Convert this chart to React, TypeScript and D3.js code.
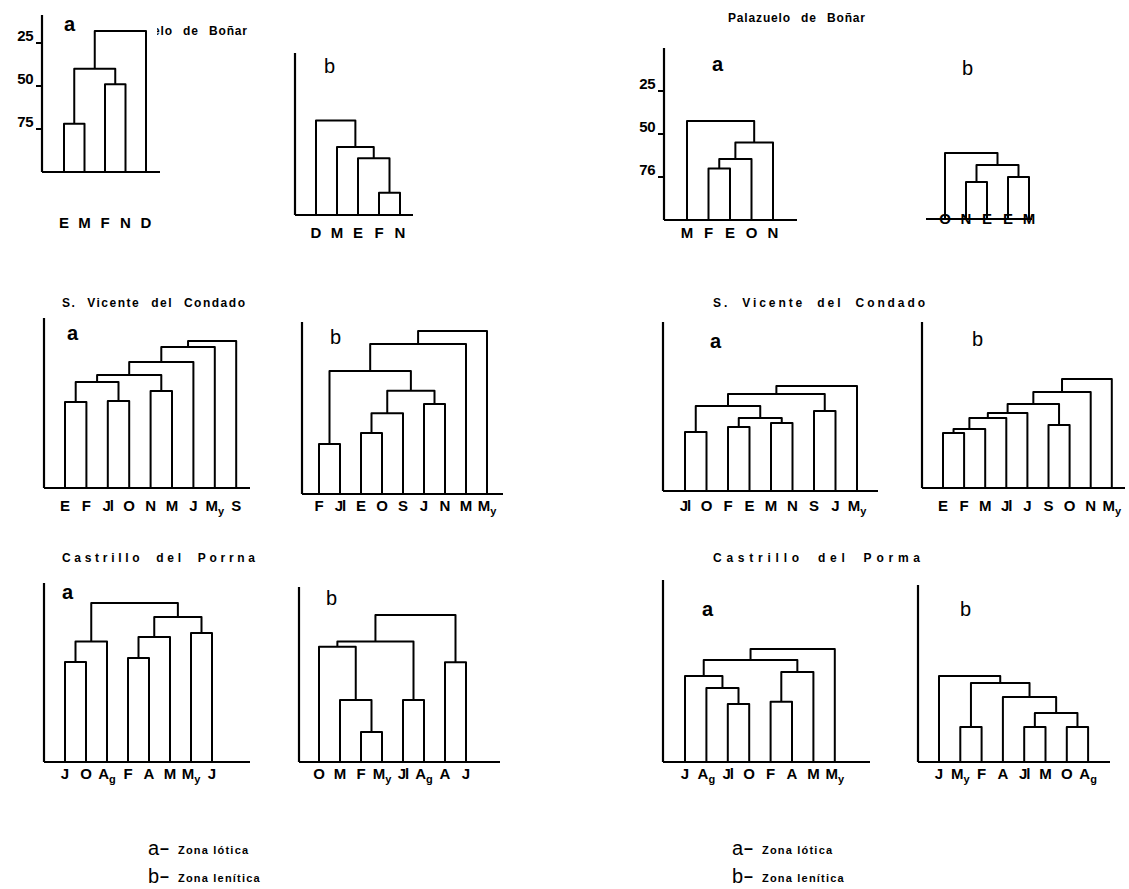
import * as d3 from "d3";

// Each dendrogram: leaves in printed order, merges hclust style
// (negative = leaf, 1-based; positive = earlier merge), similarity (%) of each merge.

// Palazuelo de Boñar
const leavesPalLeftA = ["E", "M", "F", "N", "D"];
const mergesPalLeftA = [[-1, -2], [-3, -4], [1, 2], [3, -5]];
const simPalLeftA = [72, 49, 40, 18];

const leavesPalLeftB = ["D", "M", "E", "F", "N"];
const mergesPalLeftB = [[-4, -5], [-3, 1], [-2, 2], [-1, 3]];
const simPalLeftB = [87, 67, 60.5, 45];

const leavesPalRightA = ["M", "F", "E", "O", "N"];
const mergesPalRightA = [[-2, -3], [1, -4], [2, -5], [-1, 3]];
const simPalRightA = [70, 64.5, 55, 42.4];

const leavesPalRightB = ["O", "N", "E", "E", "M"];
const mergesPalRightB = [[-2, -3], [-4, -5], [1, 2], [-1, 3]];
const simPalRightB = [78.5, 75.6, 68.6, 61.6];

// S. Vicente del Condado
const leavesVicLeftA = ["E", "F", "Jl", "O", "N", "M", "J", "My", "S"];
const mergesVicLeftA = [[-1, -2], [-3, -4], [-5, -6], [1, 2], [4, 3], [5, -7], [6, -8], [7, -9]];
const simVicLeftA = [50, 49.4, 43.6, 38.4, 34.3, 26.7, 18, 14.5];

const leavesVicLeftB = ["F", "Jl", "E", "O", "S", "J", "N", "M", "My"];
const mergesVicLeftB = [[-1, -2], [-3, -4], [2, -5], [-6, -7], [3, 4], [1, 5], [6, -8], [7, -9]];
const simVicLeftB = [71, 64.5, 53, 47.7, 40, 28.5, 12.8, 5.2];

const leavesVicRightA = ["Jl", "O", "F", "E", "M", "N", "S", "J", "My"];
const mergesVicRightA = [[-1, -2], [-3, -4], [-5, -6], [2, 3], [1, 4], [-7, -8], [5, 6], [7, -9]];
const simVicRightA = [65.7, 62.8, 60.5, 57.6, 50.6, 53.5, 43.6, 39];

const leavesVicRightB = ["E", "F", "M", "Jl", "J", "S", "O", "N", "My"];
const mergesVicRightB = [[-1, -2], [1, -3], [2, -4], [3, -5], [-6, -7], [4, 5], [6, -8], [7, -9]];
const simVicRightB = [68, 65.7, 59.3, 56.4, 63.4, 51.2, 44.2, 36.6];

// Castrillo del Porma
const leavesCasLeftA = ["J", "O", "Ag", "F", "A", "M", "My", "J"];
const mergesCasLeftA = [[-1, -2], [1, -3], [-4, -5], [3, -6], [-7, -8], [4, 5], [2, 6]];
const simCasLeftA = [41.9, 30, 39.5, 27.3, 25, 15.7, 7.6];

const leavesCasLeftB = ["O", "M", "F", "My", "Jl", "Ag", "A", "J"];
const mergesCasLeftB = [[-3, -4], [-2, 1], [-5, -6], [-1, 2], [4, 3], [-7, -8], [5, 6]];
const simCasLeftB = [82.6, 64, 64, 33, 30, 42, 14.5];

const leavesCasRightA = ["J", "Ag", "Jl", "O", "F", "A", "M", "My"];
const mergesCasRightA = [[-3, -4], [-2, 1], [-1, 2], [-5, -6], [4, -7], [3, 5], [6, -8]];
const simCasRightA = [66.3, 57, 50, 65, 47.7, 40.7, 34.3];

const leavesCasRightB = ["J", "My", "F", "A", "Jl", "M", "O", "Ag"];
const mergesCasRightB = [[-2, -3], [-5, -6], [-7, -8], [2, 3], [-4, 4], [1, 5], [-1, 6]];
const simCasRightB = [79.7, 79.7, 79.7, 71.5, 62.2, 54, 50];

const tickValues = [25, 50, 75];
const tickLabelsLeft = ["25", "50", "75"];
const tickLabelsRight = ["25", "50", "76"];

const titles = ["Palazuelo de Boñar", "S. Vicente del Condado", "Castrillo del Porrna", "Castrillo del Porma"];
const legendItems = [["a", "Zona lótica"], ["b", "Zona lenítica"]];

const PX = 43 / 25; // pixels per similarity unit
const FONT = "'Liberation Sans', Arial, sans-serif";

type Frame = {
  axisX: number | null; axisTop: number; base: number; baseStart?: number; baseEnd: number;
  x0: number; step: number; labelY: number; tag: string; tagX: number; tagY: number;
  ticks?: string[];
};

const panels: { leaves: string[]; merges: number[][]; sims: number[]; frame: Frame }[] = [
  { leaves: leavesPalLeftA, merges: mergesPalLeftA, sims: simPalLeftA,
    frame: { axisX: 42, axisTop: 15, base: 172, baseEnd: 160, x0: 64, step: 20.5, labelY: 228, tag: "a", tagX: 64, tagY: 31, ticks: tickLabelsLeft } },
  { leaves: leavesPalLeftB, merges: mergesPalLeftB, sims: simPalLeftB,
    frame: { axisX: 295, axisTop: 53, base: 215, baseEnd: 413, x0: 316, step: 21, labelY: 238, tag: "b", tagX: 324, tagY: 73 } },
  { leaves: leavesPalRightA, merges: mergesPalRightA, sims: simPalRightA,
    frame: { axisX: 664, axisTop: 48, base: 220, baseEnd: 797, x0: 687, step: 21.5, labelY: 238, tag: "a", tagX: 712, tagY: 71, ticks: tickLabelsRight } },
  { leaves: leavesPalRightB, merges: mergesPalRightB, sims: simPalRightB,
    frame: { axisX: null, axisTop: 0, base: 219, baseStart: 926, baseEnd: 1032, x0: 945, step: 21, labelY: 224, tag: "b", tagX: 962, tagY: 75 } },
  { leaves: leavesVicLeftA, merges: mergesVicLeftA, sims: simVicLeftA,
    frame: { axisX: 44, axisTop: 318, base: 488, baseEnd: 250, x0: 65, step: 21.4, labelY: 511, tag: "a", tagX: 67, tagY: 340 } },
  { leaves: leavesVicLeftB, merges: mergesVicLeftB, sims: simVicLeftB,
    frame: { axisX: 302, axisTop: 322, base: 494, baseEnd: 503, x0: 319, step: 21, labelY: 511, tag: "b", tagX: 330, tagY: 344 } },
  { leaves: leavesVicRightA, merges: mergesVicRightA, sims: simVicRightA,
    frame: { axisX: 663, axisTop: 322, base: 491, baseEnd: 878, x0: 685, step: 21.5, labelY: 511, tag: "a", tagX: 710, tagY: 348 } },
  { leaves: leavesVicRightB, merges: mergesVicRightB, sims: simVicRightB,
    frame: { axisX: 922, axisTop: 322, base: 488, baseEnd: 1125, x0: 943, step: 21.1, labelY: 511, tag: "b", tagX: 972, tagY: 346 } },
  { leaves: leavesCasLeftA, merges: mergesCasLeftA, sims: simCasLeftA,
    frame: { axisX: 44, axisTop: 583, base: 762, baseEnd: 250, x0: 65, step: 21, labelY: 779, tag: "a", tagX: 62, tagY: 599 } },
  { leaves: leavesCasLeftB, merges: mergesCasLeftB, sims: simCasLeftB,
    frame: { axisX: 299, axisTop: 587, base: 762, baseEnd: 500, x0: 319, step: 21, labelY: 779, tag: "b", tagX: 326, tagY: 605 } },
  { leaves: leavesCasRightA, merges: mergesCasRightA, sims: simCasRightA,
    frame: { axisX: 663, axisTop: 580, base: 762, baseEnd: 870, x0: 685, step: 21.4, labelY: 779, tag: "a", tagX: 702, tagY: 616 } },
  { leaves: leavesCasRightB, merges: mergesCasRightB, sims: simCasRightB,
    frame: { axisX: 918, axisTop: 585, base: 762, baseEnd: 1110, x0: 939, step: 21.3, labelY: 779, tag: "b", tagX: 960, tagY: 616 } },
];

function LeafLabel({ label, x, y }: { label: string; x: number; y: number }) {
  if (label === "My" || label === "Ag") {
    return (
      <text x={x} y={y} textAnchor="middle" fontSize={15} fontWeight="bold">
        {label[0]}
        <tspan fontSize={11} dy={4}>{label[1]}</tspan>
      </text>
    );
  }
  return (
    <text x={x} y={y} textAnchor="middle" fontSize={15} fontWeight="bold" letterSpacing={label.length > 1 ? -1 : 0}>
      {label}
    </text>
  );
}

function Dendrogram({ leaves, merges, sims, frame }: { leaves: string[]; merges: number[][]; sims: number[]; frame: Frame }) {
  const x = d3
    .scalePoint<number>()
    .domain(d3.range(leaves.length))
    .range([frame.x0, frame.x0 + frame.step * (leaves.length - 1)]);
  const y = d3.scaleLinear().domain([0, 100]).range([frame.base - 100 * PX, frame.base]);

  const nodes: { x: number; y: number }[] = [];
  const pos = (id: number) => (id < 0 ? { x: x(-id - 1) as number, y: frame.base } : nodes[id - 1]);
  const paths = merges.map(([a, b], i) => {
    const pa = pos(a);
    const pb = pos(b);
    const yy = y(sims[i]);
    nodes.push({ x: (pa.x + pb.x) / 2, y: yy });
    return `M${pa.x},${pa.y}V${yy}H${pb.x}V${pb.y}`;
  });

  const line = d3.line();
  const baseStart = frame.axisX ?? frame.baseStart ?? frame.x0;

  return (
    <g>
      {frame.axisX !== null && (
        <path d={line([[frame.axisX, frame.axisTop], [frame.axisX, frame.base]]) ?? ""} stroke="#000" strokeWidth={2.2} fill="none" />
      )}
      <path d={line([[baseStart, frame.base], [frame.baseEnd, frame.base]]) ?? ""} stroke="#000" strokeWidth={2.2} fill="none" />
      {paths.map((d, i) => (
        <path key={i} d={d} stroke="#000" strokeWidth={2} fill="none" strokeLinejoin="round" />
      ))}
      {frame.ticks &&
        tickValues.map((t, i) => (
          <g key={t}>
            <line x1={frame.axisX! - 6} x2={frame.axisX!} y1={y(t)} y2={y(t)} stroke="#000" strokeWidth={2} />
            <text x={frame.axisX! - 9} y={y(t) - 2} textAnchor="end" fontSize={15} fontWeight="bold" letterSpacing={-0.5}>
              {frame.ticks![i]}
            </text>
          </g>
        ))}
      {leaves.map((l, i) => (
        <LeafLabel key={i} label={l} x={x(i) as number} y={frame.labelY} />
      ))}
      <text x={frame.tagX} y={frame.tagY} fontSize={20} fontWeight={frame.tag === "a" ? "bold" : "normal"}>
        {frame.tag}
      </text>
    </g>
  );
}

function Title({ text, x, y, width }: { text: string; x: number; y: number; width: number }) {
  return (
    <text x={x} y={y} fontSize={12} fontWeight="bold" textLength={width} lengthAdjust="spacing" style={{ wordSpacing: 6 }}>
      {text}
    </text>
  );
}

function Legend({ x, y }: { x: number; y: number }) {
  return (
    <g>
      {legendItems.map(([k, v], i) => (
        <g key={k} transform={`translate(${x},${y + i * 28})`}>
          <text x={0} y={0} fontSize={20}>{k}</text>
          <text x={12} y={-1} fontSize={16} fontWeight="bold">–</text>
          <text x={30} y={-1} fontSize={11} fontWeight="bold" letterSpacing={1.2}>{v}</text>
        </g>
      ))}
    </g>
  );
}

export default function App() {
  return (
    <svg
      width={1129}
      height={889}
      style={{ position: "absolute", left: 0, top: 0, background: "#fff", fontFamily: FONT }}
    >
      <defs>
        <clipPath id="cutTitle">
          <rect x={157} y={0} width={200} height={60} />
        </clipPath>
      </defs>
      <g clipPath="url(#cutTitle)">
        <Title text={titles[0]} x={110} y={35} width={137} />
      </g>
      <Title text={titles[0]} x={728} y={22} width={137} />
      <Title text={titles[1]} x={62} y={307} width={183} />
      <Title text={titles[1]} x={713} y={307} width={212} />
      <Title text={titles[2]} x={62} y={562} width={193} />
      <Title text={titles[3]} x={713} y={562} width={207} />
      {panels.map((p, i) => (
        <Dendrogram key={i} {...p} />
      ))}
      <Legend x={148} y={855} />
      <Legend x={732} y={855} />
    </svg>
  );
}
